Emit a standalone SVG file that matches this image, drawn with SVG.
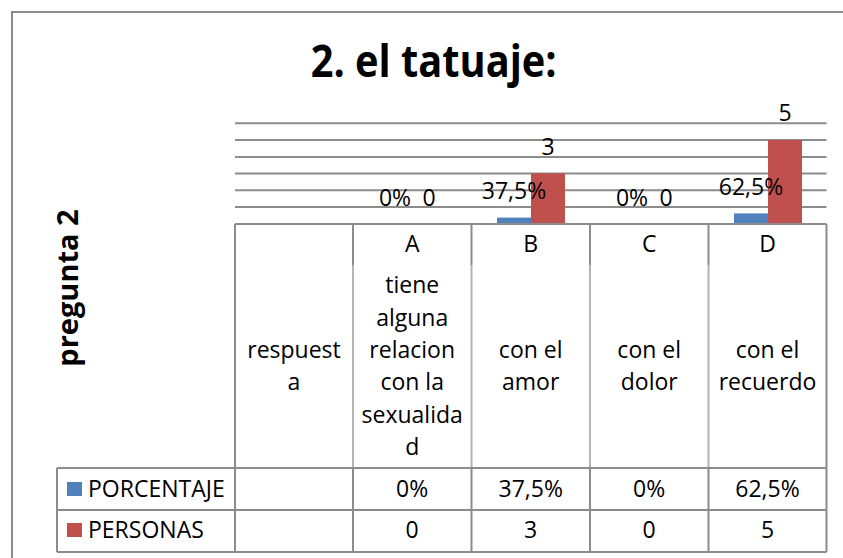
<svg xmlns="http://www.w3.org/2000/svg" width="843" height="558" viewBox="0 0 843 558">
<style>
.t{font-family:"Open Sans","Liberation Sans",sans-serif;font-size:23px;fill:#000;text-anchor:middle}
.l{font-family:"Open Sans","Liberation Sans",sans-serif;font-size:23px;fill:#000}
.b{font-family:"Open Sans","Liberation Sans",sans-serif;font-weight:bold;fill:#000;text-anchor:middle}
.grid{stroke:#8c8c8c;stroke-width:2;fill:none}
.tab{stroke:#8c8c8c;stroke-width:2;fill:none}
.tabl{stroke:#b4b4b4;stroke-width:2;fill:none}
.blue{fill:#4F81BD}
.red{fill:#C0504D}
</style>
<rect width="843" height="558" fill="#fff"/>
<g id="frame"><path d="M12,558 V12 H843" stroke="#8c8c8c" stroke-width="2" fill="none"/></g>
<g id="title"><text class="b" x="433.7" y="77" font-size="44" textLength="246" lengthAdjust="spacingAndGlyphs">2. el tatuaje:</text></g>
<g id="axis-title"><text class="b" font-size="29" transform="translate(78,288) rotate(-90)">pregunta 2</text></g>
<g id="gridlines" class="grid">
<path d="M235,123.2H826.5M235,140.1H826.5M235,157H826.5M235,173.6H826.5M235,190.3H826.5M235,207H826.5"/>
</g>
<g id="bars">
<rect class="blue" x="497" y="217.6" width="34" height="6.4"/>
<rect class="red" x="531" y="173.4" width="34" height="50.6"/>
<rect class="blue" x="734" y="213.4" width="34" height="10.6"/>
<rect class="red" x="768" y="140" width="34" height="84"/>
</g>
<g id="data-labels">
<text class="t" x="395" y="206">0%</text>
<text class="t" x="429" y="206">0</text>
<text class="t" x="514" y="199">37,5%</text>
<text class="t" x="548" y="155">3</text>
<text class="t" x="632" y="206">0%</text>
<text class="t" x="666" y="206">0</text>
<text class="t" x="751" y="194.5">62,5%</text>
<text class="t" x="785" y="121">5</text>
</g>
<g id="table">
<path class="tabl" d="M353,265V468M471.5,265V468M590,265V468M708.5,265V468"/>
<path class="tab" d="M235,224H826.5M235,224V552M826.5,224V552M353,224V265M471.5,224V265M590,224V265M708.5,224V265"/>
<path class="tab" d="M57,468H826.5M57,510H826.5M57,552H826.5M57,468V552M353,468V552M471.5,468V552M590,468V552M708.5,468V552"/>
</g>
<g id="header">
<text class="t" x="294" y="357.5">respuest</text>
<text class="t" x="294" y="390">a</text>
<text class="t" x="412.2" y="252">A</text>
<text class="t" x="412.2" y="293">tiene</text>
<text class="t" x="412.2" y="325.5">alguna</text>
<text class="t" x="412.2" y="357.5">relacion</text>
<text class="t" x="412.2" y="390">con la</text>
<text class="t" x="412.2" y="422.5">sexualida</text>
<text class="t" x="412.2" y="455">d</text>
<text class="t" x="530.7" y="252">B</text>
<text class="t" x="530.7" y="357.5">con el</text>
<text class="t" x="530.7" y="390">amor</text>
<text class="t" x="649.2" y="252">C</text>
<text class="t" x="649.2" y="357.5">con el</text>
<text class="t" x="649.2" y="390">dolor</text>
<text class="t" x="767.5" y="252">D</text>
<text class="t" x="767.5" y="357.5">con el</text>
<text class="t" x="767.5" y="390">recuerdo</text>
</g>
<g id="legend-porcentaje">
<rect class="blue" x="67" y="482" width="15" height="14"/>
<text class="l" x="88" y="497">PORCENTAJE</text>
<text class="t" x="412.2" y="497">0%</text>
<text class="t" x="530.7" y="497">37,5%</text>
<text class="t" x="649.2" y="497">0%</text>
<text class="t" x="767.5" y="497">62,5%</text>
</g>
<g id="legend-personas">
<rect class="red" x="67" y="523" width="15" height="14"/>
<text class="l" x="88" y="538">PERSONAS</text>
<text class="t" x="412.2" y="538">0</text>
<text class="t" x="530.7" y="538">3</text>
<text class="t" x="649.2" y="538">0</text>
<text class="t" x="767.5" y="538">5</text>
</g>
</svg>
